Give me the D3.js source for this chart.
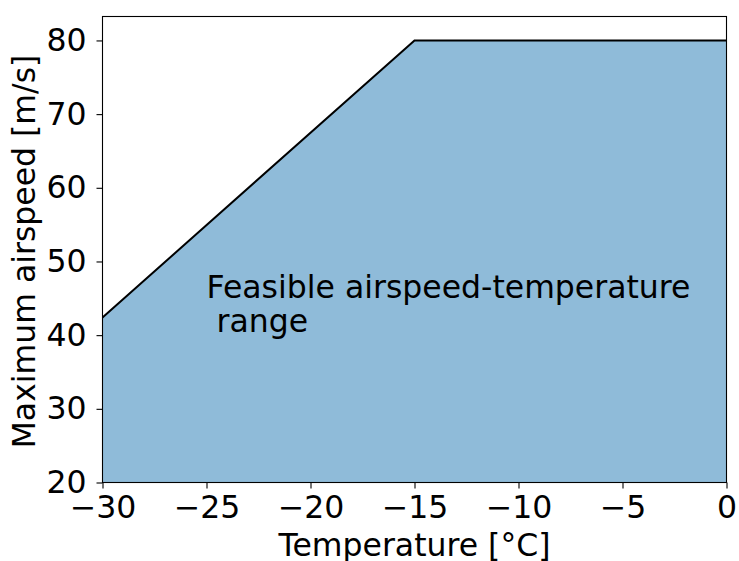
<!DOCTYPE html>
<html>
<head>
<meta charset="utf-8">
<script src="https://cdn.jsdelivr.net/npm/d3@7"></script>
<style>
  html, body { margin: 0; padding: 0; background: #fff; }
  svg text { font-family: "DejaVu Sans", sans-serif; fill: #000; }
</style>
</head>
<body>
<svg id="chart" width="739" height="561"></svg>
<script>
// Envelope of maximum airspeed vs. temperature
const temperature = [-30, -15, 0];
const maxAirspeed = [42.4, 80, 80];
const xTicks = [-30, -25, -20, -15, -10, -5, 0];
const yTicks = [20, 30, 40, 50, 60, 70, 80];
const annotation = ["Feasible airspeed-temperature", " range"];
const annotationAt = { x: -25, y: 45 };

const svg = d3.select("#chart");
const plot = { left: 102.5, right: 726.5, top: 16.5, bottom: 482.5 };
const fontSize = 31.5;

const x = d3.scaleLinear().domain([-30, 0]).range([plot.left, plot.right]);
const y = d3.scaleLinear().domain([20, 83.25]).range([plot.bottom, plot.top]);

const pts = temperature.map((t, i) => ({ t, v: maxAirspeed[i] }));

// Feasible region
svg.append("path")
  .datum(pts)
  .attr("fill", "#1f77b4")
  .attr("fill-opacity", 0.5)
  .attr("d", d3.area().x(d => x(d.t)).y0(y(20)).y1(d => y(d.v)));

// Upper boundary
svg.append("path")
  .datum(pts)
  .attr("fill", "none")
  .attr("stroke", "#000")
  .attr("stroke-width", 2)
  .attr("d", d3.line().x(d => x(d.t)).y(d => y(d.v)));

// Annotation
const ann = svg.append("text")
  .attr("x", x(annotationAt.x))
  .attr("y", y(annotationAt.y))
  .style("font-size", fontSize + "px")
  .style("white-space", "pre");
annotation.forEach((line, i) => {
  ann.append("tspan")
    .attr("x", x(annotationAt.x))
    .attr("dy", i === 0 ? 0 : 34)
    .attr("xml:space", "preserve")
    .text(line);
});

// Axes
const xAxis = svg.append("g")
  .attr("transform", `translate(0,${plot.bottom})`)
  .call(d3.axisBottom(x).tickValues(xTicks).tickSize(6).tickPadding(7)
    .tickFormat(d => d3.format("")(d).replace("-", "\u2212")));
const yAxis = svg.append("g")
  .attr("transform", `translate(${plot.left},0)`)
  .call(d3.axisLeft(y).tickValues(yTicks).tickSize(6).tickPadding(10));

[xAxis, yAxis].forEach(g => {
  g.select(".domain").remove();
  g.selectAll(".tick line").attr("stroke", "#000").attr("stroke-width", 1.1);
  g.selectAll(".tick text").style("font-size", fontSize + "px").attr("fill", "#000");
});

// Frame
svg.append("rect")
  .attr("x", plot.left).attr("y", plot.top)
  .attr("width", plot.right - plot.left).attr("height", plot.bottom - plot.top)
  .attr("fill", "none").attr("stroke", "#000").attr("stroke-width", 1.1);

// Axis titles
svg.append("text")
  .attr("x", (plot.left + plot.right) / 2)
  .attr("y", 556)
  .attr("text-anchor", "middle")
  .style("font-size", fontSize + "px")
  .text("Temperature [°C]");

svg.append("text")
  .attr("transform", `translate(35,${(plot.top + plot.bottom) / 2 + 2}) rotate(-90)`)
  .attr("text-anchor", "middle")
  .style("font-size", fontSize + "px")
  .text("Maximum airspeed [m/s]");
</script>
</body>
</html>
